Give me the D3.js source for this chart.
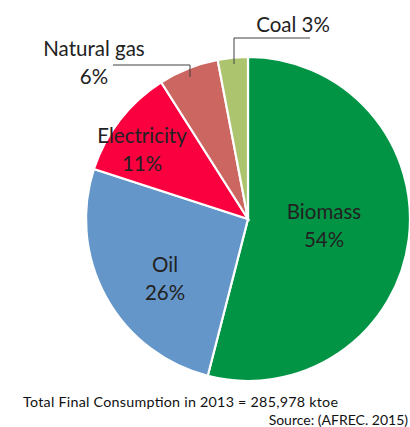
<!DOCTYPE html>
<html><head><meta charset="utf-8">
<script src="https://cdn.jsdelivr.net/npm/d3@7"></script>
<style>html,body{margin:0;padding:0;background:#fff;}svg{display:block;}</style>
</head><body>
<script>
const categories = ["Biomass", "Oil", "Electricity", "Natural gas", "Coal"];
const values = [54, 26, 11, 6, 3];
const colors = ["#009444", "#6596C9", "#FA003F", "#CC6661", "#ACC46E"];
const footerLines = ["Total Final Consumption in 2013 = 285,978 ktoe", "Source: (AFREC. 2015)"];

const W = 410, H = 427;
const cx = 248, cy = 219, R = 162;
const labelFont = "Lato, 'Open Sans', sans-serif";

// label layout (offsets relative to pie center), separate from data
const labelLayout = [
  {x: 76, y: 0, inside: true},
  {x: -83, y: 53, inside: true},
  {x: -106, y: -76, inside: true},
  {x: -154, y: -163, inside: false, line: [[-135, -154], [-58, -154], [-58, -142]]},
  {x: 45, y: -187, inside: false, oneLine: true, line: [[62, -181], [-14, -181], [-14, -155]]}
];

const svg = d3.select("body").append("svg").attr("width", W).attr("height", H);
const g = svg.append("g").attr("transform", `translate(${cx},${cy})`);

const pie = d3.pie().sort(null).value(d => d.v);
const data = pie(categories.map((c, i) => ({c, v: values[i], i})));
const arc = d3.arc().innerRadius(0).outerRadius(R);

g.selectAll("path.slice").data(data).join("path")
  .attr("class", "slice")
  .attr("d", arc)
  .attr("fill", d => colors[d.data.i])
  .attr("stroke", "#fff")
  .attr("stroke-width", 2.2);

// leader lines
data.forEach((d, i) => {
  const L = labelLayout[i];
  if (L.line) {
    g.append("path")
      .attr("d", d3.line()(L.line))
      .attr("fill", "none")
      .attr("stroke", "#404040")
      .attr("stroke-width", 1);
  }
});

// labels
data.forEach((d, i) => {
  const L = labelLayout[i];
  const pct = Math.round(d.data.v) + "%";
  const t = g.append("text")
    .attr("text-anchor", "middle")
    .attr("font-family", labelFont)
    .attr("font-size", 20.5)
    .attr("fill", "#222");
  if (L.oneLine) {
    t.append("tspan").attr("x", L.x).attr("y", L.y).text(d.data.c + " " + pct);
  } else {
    t.append("tspan").attr("x", L.x).attr("y", L.y).text(d.data.c);
    t.append("tspan").attr("x", L.x).attr("y", L.y + 28).text(pct);
  }
});

svg.append("text")
  .attr("x", 23).attr("y", 407)
  .attr("font-family", labelFont).attr("font-size", 14.3).attr("fill", "#111")
  .attr("textLength", 315).attr("lengthAdjust", "spacing")
  .text(footerLines[0]);
svg.append("text")
  .attr("x", 408).attr("y", 425).attr("text-anchor", "end")
  .attr("font-family", labelFont).attr("font-size", 14).attr("fill", "#111")
  .text(footerLines[1]);
</script>
</body></html>
